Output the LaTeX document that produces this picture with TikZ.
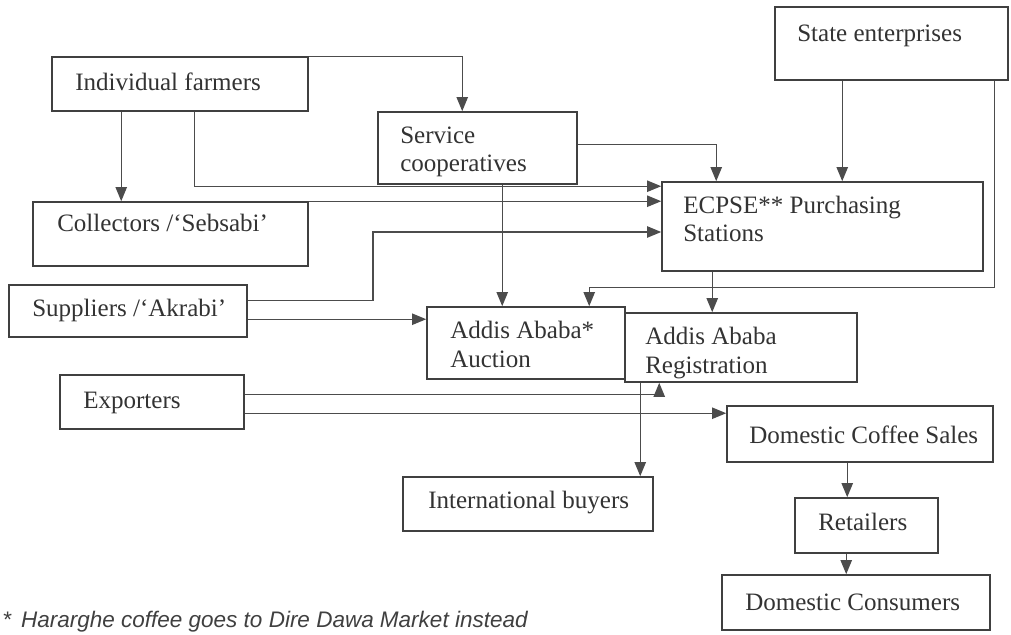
\documentclass[tikz,border=0pt]{standalone}
\usepackage{fontspec}
\setmainfont{Liberation Serif}
\setsansfont{Liberation Sans}
\usetikzlibrary{positioning,arrows.meta,fit,calc}

\begin{document}
\begin{tikzpicture}[
    x=0.025cm, y=-0.025cm,
    font=\fontsize{17.8}{20}\selectfont,
    box/.style={draw=black!75, line width=1.1pt, inner sep=0pt, fit={#1}},
    lbl/.style={anchor=base west, inner sep=0pt, align=left, text=black!80},
    note/.style={anchor=base west, inner sep=0pt, text=black!75, font=\sffamily\itshape\fontsize{16}{18}\selectfont},
    arrow/.style={-{Triangle[length=10pt,width=8pt]}, line width=1pt, draw=black!70}
]
\useasboundingbox[fill=white] (0,0) rectangle (1011,635);

% Nodes (two-line labels are placed by their last baseline)
\node[box={(52,57) (308,111)}] (farmers) {};
\node[lbl] (farmers-t) at (75,91) {Individual farmers};

\node[box={(378,112) (577,184)}] (coop) {};
\node[lbl] (coop-t) at (400,172) {Service\\cooperatives};

\node[box={(775,7) (1008,80)}] (state) {};
\node[lbl] (state-t) at (797,42) {State enterprises};

\node[box={(33,202) (308,266)}] (collectors) {};
\node[lbl] (collectors-t) at (57,232) {Collectors /`Sebsabi'};

\node[box={(662,182) (983,271)}] (ecpse) {};
\node[lbl] (ecpse-t) at (683,242) {ECPSE** Purchasing\\Stations};

\node[box={(9,285) (247,337)}] (suppliers) {};
\node[lbl] (suppliers-t) at (32,317) {Suppliers /`Akrabi'};

\node[box={(427,307) (625,379)}] (auction) {};
\node[lbl] (auction-t) at (450,367) {Addis Ababa*\\Auction};

\node[box={(625,313) (857,382)}] (registration) {};
\node[lbl] (registration-t) at (645,373) {Addis Ababa\\Registration};

\node[box={(60,375) (244,429)}] (exporters) {};
\node[lbl] (exporters-t) at (83,408) {Exporters};

\node[box={(727,406) (993,462)}] (sales) {};
\node[lbl] (sales-t) at (749,443) {Domestic Coffee Sales};

\node[box={(403,477) (653,531)}] (buyers) {};
\node[lbl] (buyers-t) at (428,508) {International buyers};

\node[box={(795,498) (938,553)}] (retailers) {};
\node[lbl] (retailers-t) at (818,530) {Retailers};

\node[box={(722,575) (990,630)}] (consumers) {};
\node[lbl] (consumers-t) at (745,610) {Domestic Consumers};

\node[note] (footnote) at (2,627) {*\hspace{0.45em}Hararghe coffee goes to Dire Dawa Market instead};

% Connections
\coordinate (f1) at ($(farmers.south west)+(70,0)$);
\coordinate (f2) at ($(farmers.south west)+(143,0)$);
\coordinate (c1) at ($(coop.north west)+(85,0)$);
\coordinate (c2) at ($(coop.south west)+(125,0)$);
\coordinate (s1) at ($(state.south west)+(68,0)$);
\coordinate (s2) at ($(state.south west)+(220,0)$);
\coordinate (a2) at ($(auction.north west)+(163,0)$);
\coordinate (e1) at ($(ecpse.south west)+(51,0)$);
\coordinate (r1) at ($(registration.south west)+(35,0)$);
\coordinate (r2) at ($(registration.south west)+(16,0)$);
\coordinate (d1) at ($(sales.south west)+(121,0)$);
\coordinate (t1) at ($(retailers.south west)+(52,0)$);
\coordinate (bend) at (373,232);

\draw[arrow] (farmers.north east) -| (c1);
\draw[arrow] (f1) -- (f1 |- collectors.north);
\draw[arrow] (f2) |- ($(ecpse.north west)+(0,5)$);
\draw[arrow] (collectors.north east) -- (collectors.north east -| ecpse.west);
\draw[arrow] ($(suppliers.north east)+(0,16)$) -| (bend) -- (bend -| ecpse.west);
\draw[arrow] ($(suppliers.north east)+(0,35)$) -- ($(auction.north west)+(0,13)$);
\draw[arrow] ($(coop.north east)+(0,33)$) -| ($(ecpse.north west)+(55,0)$);
\draw[arrow] (c2) -- (c2 |- auction.north);
\draw[arrow] (s1) -- (s1 |- ecpse.north);
\draw[arrow] (s2) |- ($(a2)+(0,-19)$) -- (a2);
\draw[arrow] (e1) -- (e1 |- registration.north);
\draw[arrow] ($(exporters.north east)+(0,20)$) -| (r1);
\draw[arrow] ($(exporters.north east)+(0,39)$) -- ($(sales.north west)+(0,8)$);
\draw[arrow] (r2) -- (r2 |- buyers.north);
\draw[arrow] (d1) -- (d1 |- retailers.north);
\draw[arrow] (t1) -- (t1 |- consumers.north);

\end{tikzpicture}
\end{document}
